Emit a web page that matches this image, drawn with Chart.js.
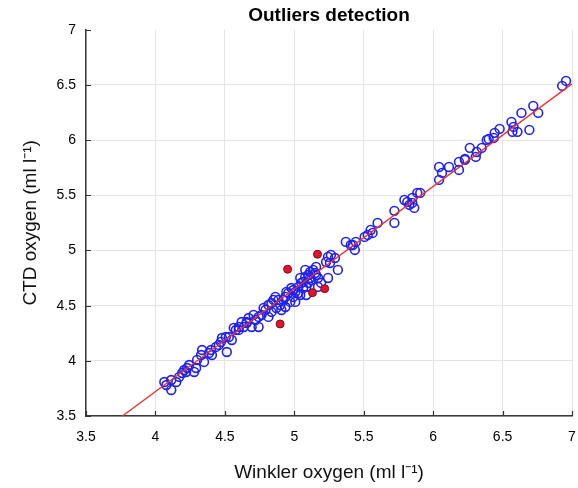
<!DOCTYPE html>
<html>
<head>
<meta charset="utf-8">
<script src="https://cdn.jsdelivr.net/npm/chart.js@4.4.1/dist/chart.umd.min.js"></script>
<style>
  html, body { margin: 0; padding: 0; background: #fff; }
  #wrap { width: 578px; height: 488px; }
</style>
</head>
<body>
<div id="wrap"><canvas id="outliersChart" width="578" height="488"></canvas></div>
<script>
// tick labels
const xTicks = [3.5, 4, 4.5, 5, 5.5, 6, 6.5, 7];
const yTicks = [3.5, 4, 4.5, 5, 5.5, 6, 6.5, 7];

// Winkler (x) vs CTD (y), blue open circles
const winkler = [
  4.064, 4.079, 4.114, 4.114, 4.15, 4.171, 4.193, 4.207, 4.229, 4.243, 4.293, 4.221, 4.279, 4.35,
  4.3, 4.329, 4.336, 4.386, 4.407, 4.4, 4.436, 4.457, 4.479, 4.507, 4.514, 4.471, 4.55, 4.579,
  4.6, 4.636, 4.657, 4.529, 4.564, 4.6, 4.621, 4.657, 4.671, 4.693, 4.707, 4.721, 4.743, 4.743,
  4.764, 4.779, 4.793, 4.814, 4.814, 4.836, 4.836, 4.85, 4.864, 4.871, 4.886, 4.9, 4.907, 4.921,
  4.936, 4.936, 4.943, 4.957, 4.971, 4.979, 4.993, 4.993, 5.007, 5.007, 5.029, 5.029, 5.043, 5.043,
  5.05, 5.064, 5.064, 5.079, 5.079, 5.086, 5.086, 5.1, 5.1, 5.114, 5.114, 5.121, 5.136, 5.15,
  5.157, 5.157, 5.171, 5.171, 5.193, 5.229, 5.243, 5.243, 5.257, 5.264, 5.293, 5.314, 5.371, 5.407,
  5.421, 5.436, 5.443, 5.507, 5.529, 5.55, 5.564, 5.6, 5.721, 5.721, 5.793, 5.814, 5.829, 5.85,
  5.85, 5.864, 5.886, 5.907, 6.043, 6.043, 6.064, 6.114, 6.186, 6.186, 6.229, 6.229, 6.264, 6.307,
  6.314, 6.35, 6.386, 6.4, 6.436, 6.443, 6.479, 6.564, 6.571, 6.579, 6.607, 6.636, 6.693, 6.721,
  6.757, 6.929, 6.957
];
const ctd = [
  3.808, 3.781, 3.736, 3.826, 3.808, 3.854, 3.89, 3.917, 3.935, 3.962, 3.935, 3.899, 3.899, 3.99,
  4.008, 4.053, 4.098, 4.071, 4.053, 4.098, 4.126, 4.144, 4.207, 4.216, 4.08, 4.171, 4.189, 4.28,
  4.307, 4.307, 4.343, 4.216, 4.298, 4.28, 4.352, 4.352, 4.388, 4.307, 4.416, 4.37, 4.398, 4.307,
  4.416, 4.479, 4.461, 4.506, 4.398, 4.524, 4.443, 4.552, 4.579, 4.479, 4.552, 4.506, 4.461, 4.552,
  4.579, 4.488, 4.624, 4.615, 4.534, 4.66, 4.579, 4.642, 4.624, 4.534, 4.67, 4.615, 4.751, 4.597,
  4.706, 4.66, 4.715, 4.76, 4.824, 4.597, 4.67, 4.778, 4.706, 4.806, 4.751, 4.733, 4.824, 4.796,
  4.851, 4.778, 4.751, 4.67, 4.706, 4.896, 4.942, 4.751, 4.887, 4.96, 4.932, 4.824, 5.078, 5.05,
  5.05, 5.005, 5.078, 5.123, 5.141, 5.186, 5.159, 5.25, 5.359, 5.25, 5.458, 5.44, 5.413, 5.476,
  5.431, 5.386, 5.522, 5.522, 5.64, 5.757, 5.703, 5.757, 5.73, 5.803, 5.821, 5.83, 5.93, 5.848,
  5.893, 5.93, 6.002, 6.011, 6.02, 6.066, 6.102, 6.165, 6.075, 6.12, 6.075, 6.247, 6.093, 6.311,
  6.247, 6.492, 6.537
];

// flagged outliers, red filled
const outlierWinkler = [4.952, 5.167, 5.131, 5.219, 4.898];
const outlierCtd = [4.83, 4.966, 4.618, 4.654, 4.334];

// regression line end points
const fitX = [3.762, 7.0];
const fitY = [3.5, 6.51];

const pts = (xs, ys) => xs.map((v, i) => ({ x: v, y: ys[i] }));

const FONT = "'Liberation Sans', Arial, Helvetica, sans-serif";

// small inward tick marks like the original plot
const innerTicks = {
  id: "innerTicks",
  afterDraw(chart) {
    const ctx = chart.ctx;
    const xs = chart.scales.x, ys = chart.scales.y;
    const area = chart.chartArea;
    ctx.save();
    ctx.strokeStyle = "#333";
    ctx.lineWidth = 1.2;
    ctx.beginPath();
    xTicks.forEach(v => {
      const px = Math.round(xs.getPixelForValue(v)) + 0.5;
      ctx.moveTo(px, area.bottom);
      ctx.lineTo(px, area.bottom - 5);
    });
    yTicks.forEach(v => {
      const py = Math.round(ys.getPixelForValue(v)) + 0.5;
      ctx.moveTo(area.left, py);
      ctx.lineTo(area.left + 5, py);
    });
    ctx.stroke();
    ctx.restore();
  }
};

const ctx = document.getElementById("outliersChart").getContext("2d");

new Chart(ctx, {
  type: "scatter",
  data: {
    datasets: [
      {
        label: "outliers",
        data: pts(outlierWinkler, outlierCtd),
        pointRadius: 4,
        pointBackgroundColor: "#e3122f",
        pointBorderColor: "#7a0b1c",
        pointBorderWidth: 1,
        order: 0
      },
      {
        type: "line",
        label: "fit",
        data: pts(fitX, fitY),
        borderColor: "#f0302a",
        borderWidth: 1.3,
        pointRadius: 0,
        fill: false,
        order: 1
      },
      {
        label: "samples",
        data: pts(winkler, ctd),
        pointRadius: 4.4,
        pointBackgroundColor: "rgba(0,0,0,0)",
        pointBorderColor: "#2121f0",
        pointBorderWidth: 1.6,
        order: 2
      }
    ]
  },
  options: {
    responsive: false,
    animation: false,
    layout: { padding: { top: 0, right: 2, left: 0, bottom: 0 } },
    plugins: {
      legend: { display: false },
      tooltip: { enabled: false },
      title: {
        display: true,
        text: "Outliers detection",
        fullSize: false,
        color: "#000",
        font: { family: FONT, size: 19, weight: "bold" },
        padding: { top: 4, bottom: 3 }
      }
    },
    scales: {
      x: {
        type: "linear",
        min: 3.5,
        max: 7,
        afterFit(scale) {
          scale.height = 72;
          scale.paddingLeft = 0;
          scale.paddingRight = 0;
        },
        afterBuildTicks(scale) { scale.ticks = xTicks.map(v => ({ value: v })); },
        ticks: {
          color: "#000",
          font: { family: FONT, size: 14 },
          padding: 13,
          maxRotation: 0,
          callback: v => String(v)
        },
        grid: {
          color: "#e4e4e4",
          lineWidth: 1,
          drawTicks: false
        },
        border: { display: true, color: "#3a3a3a", width: 1.5 },
        title: {
          display: true,
          text: "Winkler oxygen (ml l\u207B\u00B9)",
          color: "#111",
          font: { family: FONT, size: 19 },
          padding: { top: 10 }
        }
      },
      y: {
        type: "linear",
        min: 3.5,
        max: 7,
        afterFit(scale) {
          scale.width = 86;
          scale.paddingTop = 0;
          scale.paddingBottom = 0;
        },
        afterBuildTicks(scale) { scale.ticks = yTicks.map(v => ({ value: v })); },
        ticks: {
          color: "#000",
          font: { family: FONT, size: 14 },
          padding: 10,
          callback: v => String(v)
        },
        grid: {
          color: ctx => (ctx.tick && ctx.tick.value === 7 ? "rgba(0,0,0,0)" : "#e4e4e4"),
          lineWidth: 1,
          drawTicks: false
        },
        border: { display: true, color: "#3a3a3a", width: 1.5 },
        title: {
          display: true,
          text: "CTD oxygen (ml l\u207B\u00B9)",
          color: "#111",
          font: { family: FONT, size: 19 },
          padding: { top: 19, bottom: 4 }
        }
      }
    }
  },
  plugins: [innerTicks]
});
</script>
</body>
</html>
